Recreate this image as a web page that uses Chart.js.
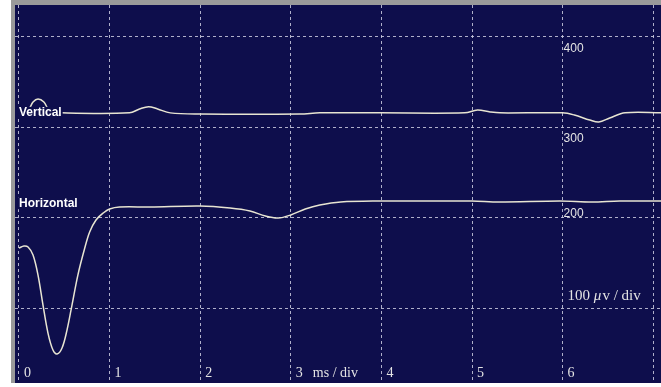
<!DOCTYPE html>
<html>
<head>
<meta charset="utf-8">
<script src="https://cdn.jsdelivr.net/npm/chart.js@4"></script>
<style>
  html, body { margin: 0; padding: 0; background: #fff; }
  #wrap { width: 661px; height: 387px; }
</style>
</head>
<body>
<div id="wrap"><canvas id="scope"></canvas></div>
<script>
// time in ms (1 ms / div), amplitude in uV (100 uV / div)
const vertTime = [0, 0.1, 0.155, 0.21, 0.275, 0.34, 0.47, 1.22, 1.33, 1.43, 1.53, 1.67, 2.0, 3.1, 3.32, 3.98, 4.92, 5.06, 5.2, 5.31, 6.0, 6.13, 6.3, 6.4, 6.52, 6.69, 7.1];
const vertAmp = [316, 319, 328, 331.4, 328, 318, 316, 316, 320.3, 322.9, 320.3, 316, 314.8, 314.8, 316, 316, 316, 319.2, 317, 316, 316, 313.6, 308.1, 305.9, 310.3, 316, 316];

const horzTime = [0, 0.055, 0.1, 0.155, 0.21, 0.265, 0.32, 0.375, 0.42, 0.475, 0.53, 0.585, 0.65, 0.72, 0.78, 0.85, 0.93, 1.0, 1.11, 1.45, 2.0, 2.33, 2.55, 2.72, 2.86, 3.0, 3.16, 3.32, 3.55, 3.98, 4.54, 5.0, 5.3, 5.97, 6.32, 6.63, 7.1];
const horzAmp = [166.4, 168.6, 167.5, 158.7, 136.5, 103.3, 72.3, 53.5, 49.1, 55.7, 75.6, 103.3, 136.5, 164.2, 184.1, 197.4, 205.2, 209.6, 211.8, 211.8, 212.9, 210.7, 207.4, 201.8, 199.6, 203, 209.6, 214, 217.3, 218.4, 218.4, 218.4, 217.3, 218.4, 217.3, 218.4, 218.4];

const xTickLabels = ['0', '1', '2', '3', '4', '5', '6'];
const yTickValues = [400, 300, 200];
const seriesNames = ['Vertical', 'Horizontal'];
const xUnit = 'ms / div';
const yUnit = ['100 ', 'μ', 'v / div'];

const BG = '#0e0e4c';
const TRACE = '#e8e5d2';

function toPoints(xs, ys) {
  return xs.map((x, i) => ({ x: x, y: ys[i] }));
}

const scopeFrame = {
  id: 'scopeFrame',
  beforeDraw(chart) {
    const { ctx, chartArea: a } = chart;
    ctx.save();
    ctx.fillStyle = '#ffffff';
    ctx.fillRect(0, 0, chart.width, chart.height);
    ctx.fillStyle = '#9a9a9a';
    ctx.fillRect(11, 0, chart.width - 11, a.top);
    ctx.fillRect(11, 0, a.left - 11, a.bottom);
    ctx.fillStyle = BG;
    ctx.fillRect(a.left, a.top, a.right - a.left, a.bottom - a.top);
    ctx.restore();
  }
};

const scopeText = {
  id: 'scopeText',
  afterDatasetsDraw(chart) {
    const { ctx, scales: { x, y } } = chart;
    ctx.save();
    ctx.fillStyle = '#e4e4e4';
    ctx.textBaseline = 'alphabetic';
    ctx.textAlign = 'left';

    // time ticks along the bottom
    ctx.font = '14px "Liberation Serif", serif';
    const base = chart.chartArea.bottom - 6;
    xTickLabels.forEach((t, i) => {
      ctx.fillText(t, x.getPixelForValue(i) + 5, base);
    });
    ctx.fillText(xUnit, x.getPixelForValue(3) + 22, base);

    // amplitude ticks
    ctx.font = '12px "Liberation Sans", Arial, sans-serif';
    yTickValues.forEach((v) => {
      const off = v === 200 ? -1 : 15;
      ctx.fillText(String(v), x.getPixelForValue(6) + 1, y.getPixelForValue(v) + off);
    });

    ctx.font = '15px "Liberation Serif", serif';
    let px = x.getPixelForValue(6) + 5;
    const py = y.getPixelForValue(100) - 8;
    ctx.fillText(yUnit[0], px, py);
    px += ctx.measureText(yUnit[0]).width;
    ctx.font = 'italic 15px "Liberation Serif", serif';
    ctx.fillText(yUnit[1], px, py);
    px += ctx.measureText(yUnit[1]).width + 1;
    ctx.font = '15px "Liberation Serif", serif';
    ctx.fillText(yUnit[2], px, py);

    // trace names
    ctx.font = 'bold 12px "Liberation Sans", Arial, sans-serif';
    ctx.textBaseline = 'middle';
    const nameY = [y.getPixelForValue(316), y.getPixelForValue(216)];
    seriesNames.forEach((n, i) => {
      const w = ctx.measureText(n).width;
      ctx.fillStyle = BG;
      ctx.fillRect(x.getPixelForValue(0) - 1, nameY[i] - 6, w + 2, 12);
      ctx.fillStyle = '#ffffff';
      ctx.fillText(n, x.getPixelForValue(0), nameY[i]);
    });
    ctx.restore();
  }
};

const gridOpts = {
  color: 'rgba(205, 205, 225, 0.85)',
  lineWidth: 1,
  drawTicks: false
};

new Chart(document.getElementById('scope').getContext('2d'), {
  type: 'scatter',
  data: {
    datasets: [{
      label: seriesNames[0],
      data: toPoints(vertTime, vertAmp),
      showLine: true,
      borderColor: TRACE,
      borderWidth: 1.5,
      pointRadius: 0,
      tension: 0.35
    }, {
      label: seriesNames[1],
      data: toPoints(horzTime, horzAmp),
      showLine: true,
      borderColor: TRACE,
      borderWidth: 1.5,
      pointRadius: 0,
      tension: 0.35
    }]
  },
  options: {
    responsive: true,
    maintainAspectRatio: false,
    animation: false,
    layout: { padding: { left: 15, top: 5, right: 0, bottom: 4 } },
    scales: {
      x: {
        type: 'linear',
        min: -0.044,
        max: 7.086,
        grid: gridOpts,
        border: { display: false, dash: [3, 3] },
        ticks: { display: false },
        afterBuildTicks: (s) => { s.ticks = [0, 1, 2, 3, 4, 5, 6, 7].map((v) => ({ value: v })); },
        afterFit: (s) => { s.height = 0; }
      },
      y: {
        type: 'linear',
        min: 17,
        max: 435.4,
        grid: gridOpts,
        border: { display: false, dash: [3, 3] },
        ticks: { display: false },
        afterBuildTicks: (s) => { s.ticks = [100, 200, 300, 400].map((v) => ({ value: v })); },
        afterFit: (s) => { s.width = 0; }
      }
    },
    plugins: {
      legend: { display: false },
      tooltip: { enabled: false }
    }
  },
  plugins: [scopeFrame, scopeText]
});
</script>
</body>
</html>
